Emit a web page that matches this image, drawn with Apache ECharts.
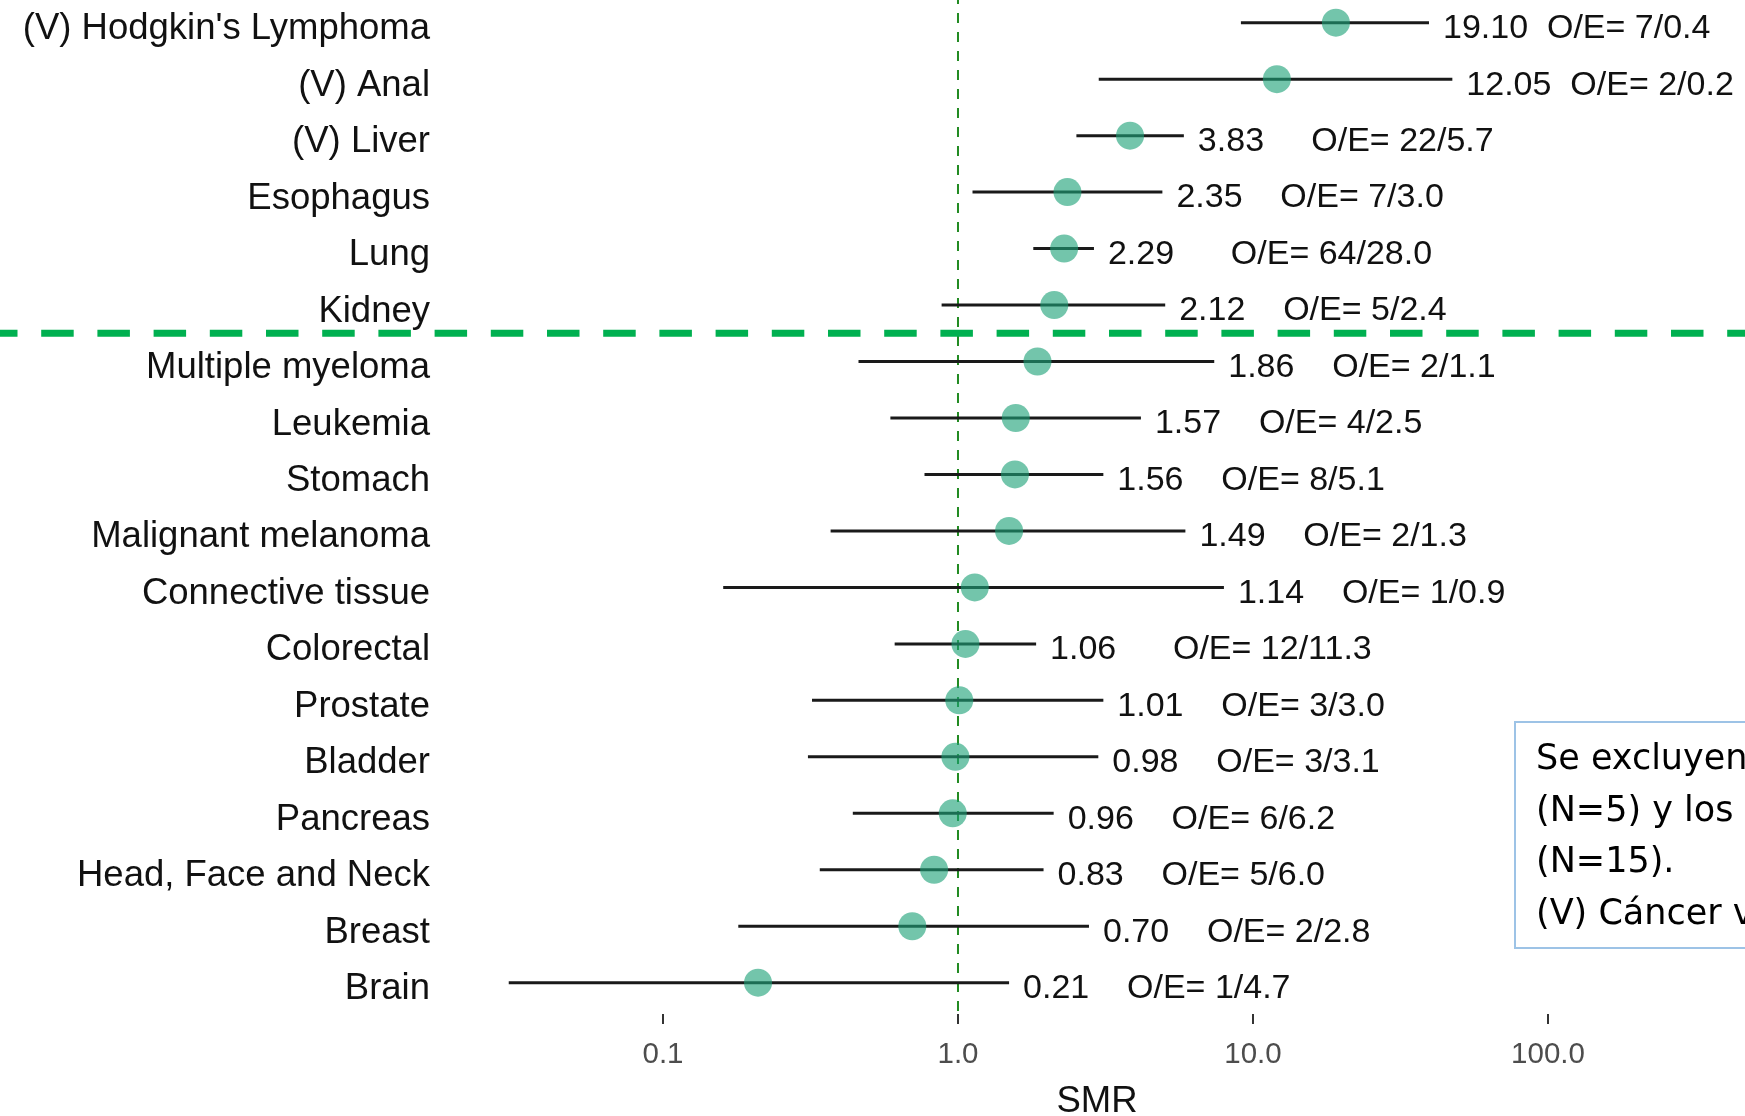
<!DOCTYPE html>
<html>
<head>
<meta charset="utf-8">
<script src="https://cdn.jsdelivr.net/npm/echarts@6/dist/echarts.min.js"></script>
<style>
html,body{margin:0;padding:0;background:#fff;}
#c{width:1745px;height:1116px;}
</style>
</head>
<body>
<div id="c"></div>
<script>
// ---------------- data ----------------
const categories = [
  "(V) Hodgkin's Lymphoma", "(V) Anal", "(V) Liver", "Esophagus", "Lung", "Kidney",
  "Multiple myeloma", "Leukemia", "Stomach", "Malignant melanoma", "Connective tissue",
  "Colorectal", "Prostate", "Bladder", "Pancreas", "Head, Face and Neck", "Breast", "Brain"
];
const smr     = [19.10, 12.05, 3.83, 2.35, 2.29, 2.12, 1.86, 1.57, 1.56, 1.49, 1.14, 1.06, 1.01, 0.98, 0.96, 0.83, 0.70, 0.21];
const ciLower = [9.1, 3.0, 2.52, 1.12, 1.80, 0.88, 0.46, 0.59, 0.77, 0.37, 0.16, 0.61, 0.32, 0.31, 0.44, 0.34, 0.18, 0.030];
const ciUpper = [39.5, 47.4, 5.83, 4.93, 2.89, 5.04, 7.39, 4.17, 3.11, 5.90, 7.97, 1.84, 3.11, 2.99, 2.11, 1.95, 2.78, 1.49];
const pointLabels = [
  "19.10  O/E= 7/0.4",
  "12.05  O/E= 2/0.2",
  "3.83     O/E= 22/5.7",
  "2.35    O/E= 7/3.0",
  "2.29      O/E= 64/28.0",
  "2.12    O/E= 5/2.4",
  "1.86    O/E= 2/1.1",
  "1.57    O/E= 4/2.5",
  "1.56    O/E= 8/5.1",
  "1.49    O/E= 2/1.3",
  "1.14    O/E= 1/0.9",
  "1.06      O/E= 12/11.3",
  "1.01    O/E= 3/3.0",
  "0.98    O/E= 3/3.1",
  "0.96    O/E= 6/6.2",
  "0.83    O/E= 5/6.0",
  "0.70    O/E= 2/2.8",
  "0.21    O/E= 1/4.7"
];
const xTicks = [0.1, 1, 10, 100];
const refValue = 1;
const noteLines = ["Se excluyen", "(N=5) y los '", "(N=15).", "(V) Cáncer v"];

// ---------------- chart ----------------
const FONT = '"Liberation Sans", Arial, sans-serif';
const xMin = 0.01882, xMax = 465.4;
const chart = echarts.init(document.getElementById('c'), null, {renderer: 'canvas'});

function isTick(v) {
  const l = Math.log10(v);
  return xTicks.some(t => Math.abs(Math.log10(t) - l) < 1e-6);
}

const ciData = categories.map((c, i) => [ciLower[i], i, ciUpper[i]]);
const ptData = categories.map((c, i) => [smr[i], i]);

const hiddenLog = (g) => ({type: 'log', gridIndex: g, min: xMin, max: xMax,
  axisLine: {show: false}, axisTick: {show: false}, axisLabel: {show: false}, splitLine: {show: false}});
const gridBase = {left: 449, width: 1296, containLabel: false, outerBoundsMode: 'none'};

const option = {
  animation: false,
  backgroundColor: '#fff',
  grid: [
    Object.assign({top: 22.7, height: 960}, gridBase),   // main panel rows
    Object.assign({top: 1014, height: 10}, gridBase),    // x tick marks + labels
    Object.assign({top: 0, height: 1012}, gridBase),     // full-height reference line
    Object.assign({top: 29.2, height: 960}, gridBase)    // category labels (text baseline offset)
  ],
  xAxis: [
    hiddenLog(0),
    {type: 'log', gridIndex: 1, min: xMin, max: xMax,
     axisLine: {show: false}, axisTick: {show: false}, splitLine: {show: false},
     axisLabel: {formatter: v => isTick(v) ? Number(v).toFixed(1) : '', color: '#4d4d4d',
                 fontSize: 29.5, fontFamily: FONT, margin: 16},
     name: 'SMR', nameLocation: 'middle', nameGap: 59,
     nameTextStyle: {fontSize: 36.5, color: '#111', fontFamily: FONT}},
    hiddenLog(2),
    hiddenLog(3)
  ],
  yAxis: [
    {type: 'category', gridIndex: 0, data: categories, inverse: true, boundaryGap: false, show: false},
    {type: 'value', gridIndex: 1, min: 0, max: 1, show: false},
    {type: 'value', gridIndex: 2, min: 0, max: 1, show: false},
    {type: 'category', gridIndex: 3, data: categories, inverse: true, boundaryGap: false,
     axisLine: {show: false}, axisTick: {show: false}, splitLine: {show: false},
     axisLabel: {fontSize: 36.5, color: '#111', fontFamily: FONT, margin: 19}}
  ],
  series: [
    {
      type: 'custom', xAxisIndex: 2, yAxisIndex: 2, data: [[refValue]], encode: {x: 0}, z: 1,
      renderItem: function (params, api) {
        const x = api.coord([api.value(0), 0])[0];
        const cs = params.coordSys;
        return {type: 'line', shape: {x1: x, y1: cs.y, x2: x, y2: cs.y + cs.height},
                style: {stroke: '#228B22', lineWidth: 2, lineDash: [10, 9], lineDashOffset: 6}};
      }
    },
    {
      type: 'custom', xAxisIndex: 0, yAxisIndex: 0, data: ciData, z: 2, clip: false,
      encode: {x: [0, 2], y: 1},
      renderItem: function (params, api) {
        const idx = params.dataIndex;
        const p1 = api.coord([api.value(0), api.value(1)]);
        const p2 = api.coord([api.value(2), api.value(1)]);
        return {
          type: 'group',
          children: [
            {type: 'line', shape: {x1: p1[0], y1: p1[1], x2: p2[0], y2: p2[1]},
             style: {stroke: '#1a1a1a', lineWidth: 3}},
            {type: 'text', x: p2[0] + 14, y: p2[1] + 6,
             style: {text: pointLabels[idx], font: '34px ' + FONT, fill: '#111',
                     verticalAlign: 'middle', align: 'left'}}
          ]
        };
      }
    },
    {
      type: 'scatter', xAxisIndex: 0, yAxisIndex: 0, data: ptData, z: 3, clip: false,
      symbol: 'circle', symbolSize: 28,
      itemStyle: {color: 'rgba(27,160,118,0.77)'}
    },
    {
      type: 'custom', xAxisIndex: 1, yAxisIndex: 1, data: xTicks.map(v => [v]), encode: {x: 0}, clip: false,
      renderItem: function (params, api) {
        const x = api.coord([api.value(0), 0])[0];
        const cs = params.coordSys;
        return {type: 'line', shape: {x1: x, y1: cs.y, x2: x, y2: cs.y + cs.height},
                style: {stroke: '#333', lineWidth: 2}};
      }
    }
  ]
};
chart.setOption(option);

// separator line between Kidney and Multiple myeloma, plus the note box
const yA = chart.convertToPixel({yAxisIndex: 0}, categories[5]);
const yB = chart.convertToPixel({yAxisIndex: 0}, categories[6]);
const ySep = (yA + yB) / 2;
const graphics = [
  {type: 'line', z: 100, shape: {x1: -15, y1: ySep, x2: 1760, y2: ySep},
   style: {stroke: '#00B050', lineWidth: 7, lineDash: [32.5, 23.7]}},
  {type: 'rect', z: 100, shape: {x: 1515, y: 722, width: 400, height: 226},
   style: {fill: '#fff', stroke: '#9DC3E6', lineWidth: 2}}
];
noteLines.forEach((t, i) => graphics.push({
  type: 'text', z: 110, x: 1536, y: 760 + i * 51.5,
  style: {text: t, font: '35px "DejaVu Sans", sans-serif', fill: '#000',
          verticalAlign: 'middle', align: 'left'}
}));
chart.setOption({graphic: graphics});
</script>
</body>
</html>
